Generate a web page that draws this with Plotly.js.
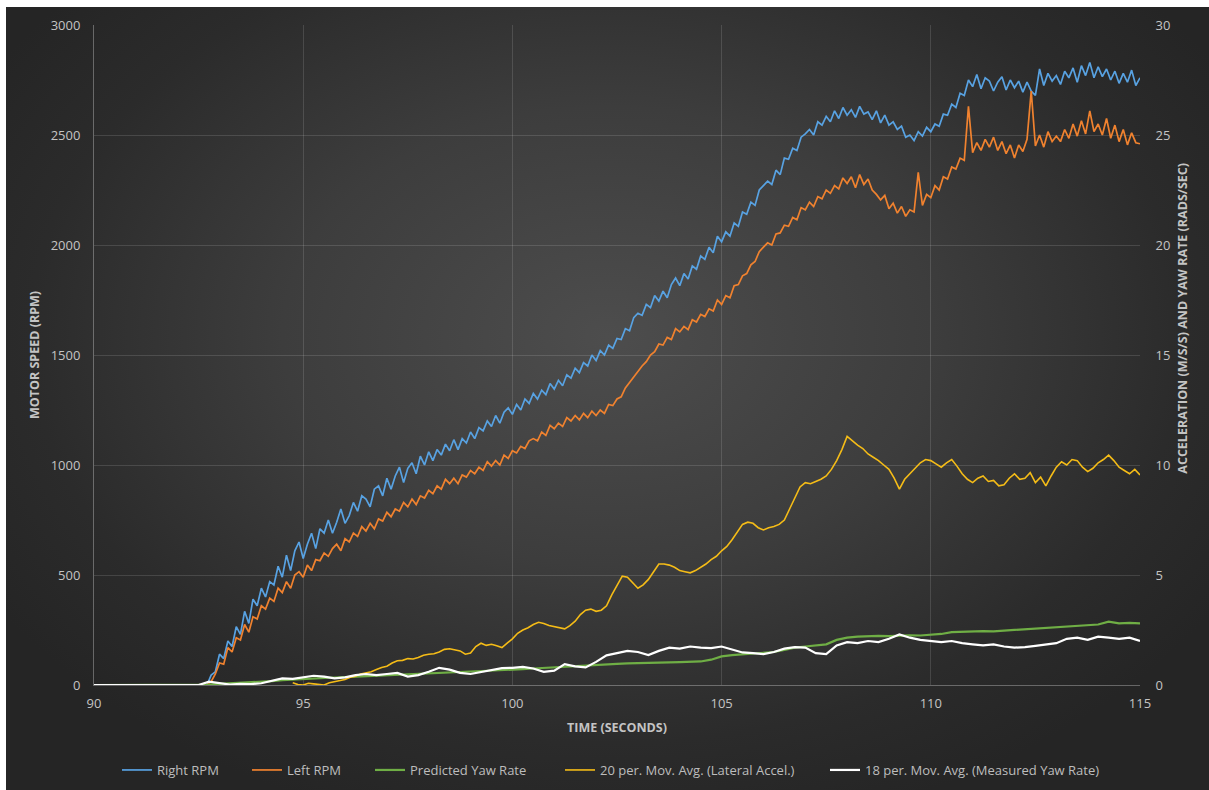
<!DOCTYPE html>
<html>
<head>
<meta charset="utf-8">
<script src="https://cdn.plot.ly/plotly-3.0.1.min.js"></script>
<style>
  html, body { margin: 0; padding: 0; background: #ffffff; width: 1209px; height: 790px; overflow: hidden; }
  #wrap { position: absolute; left: 6px; top: 7px; width: 1203px; height: 783px;
    background: radial-gradient(ellipse 60% 65% at 50% 42%, #4d4d4d 0%, #3d3d3d 45%, #2b2b2b 80%, #252525 100%); }
  #chart { width: 1203px; height: 783px; }
</style>
</head>
<body>
<div id="wrap"><div id="chart"></div></div>
<script>
// ---- time grids (seconds) ----
const rpmStart = 90, rpmStep = 0.1;
const slowStart = 90, slowStep = 0.25;
const accelStart = 94.75, accelStep = 0.125;

// ---- Right RPM (left axis), every 0.1 s from 90 s ----
const rightRPM = [
  0,0,0,0,0,0,0,0,0,0, 0,0,0,0,0,0,0,0,0,0, 0,0,0,0,0,0,0,
  0, 45, 60, 140,
  120, 200, 175, 265, 230,
  335, 280, 390, 360, 440,
  400, 470, 455, 540, 490,
  590, 520, 610, 650, 575,
  640, 690, 620, 710, 690,
  750, 690, 740, 800, 735,
  770, 830, 790, 860, 845,
  810, 890, 905, 860, 940,
  890, 950, 990, 920, 985,
  1010, 960, 1040, 1000, 1060,
  1020, 1070, 1045, 1095, 1065,
  1115, 1070, 1120, 1100, 1150,
  1120, 1170, 1155, 1200, 1175,
  1225, 1190, 1240, 1260, 1230,
  1275, 1250, 1300, 1280, 1325,
  1300, 1340, 1320, 1370, 1345,
  1385, 1360, 1410, 1395, 1440,
  1420, 1465, 1450, 1500, 1475,
  1520, 1500, 1545, 1530, 1575,
  1570, 1620, 1610, 1670, 1690,
  1680, 1730, 1715, 1770, 1745,
  1790, 1760, 1820, 1850, 1815,
  1870, 1845, 1905, 1890, 1950,
  1935, 1990, 1965, 2040, 2015,
  2060, 2040, 2100, 2085, 2150,
  2140, 2195, 2180, 2250, 2270,
  2290, 2275, 2340, 2320, 2395,
  2390, 2440, 2430, 2490, 2505,
  2525, 2500, 2560, 2545, 2585,
  2560, 2610, 2575, 2625, 2590,
  2615, 2580, 2630, 2595, 2605,
  2570, 2610, 2555, 2590, 2545,
  2560, 2525, 2540, 2490, 2500,
  2475, 2515, 2495, 2535, 2515,
  2550, 2540, 2595, 2590, 2640,
  2625, 2690, 2680, 2750, 2720,
  2775, 2710, 2760, 2745, 2700,
  2740, 2765, 2705, 2750, 2715,
  2745, 2695, 2740, 2700, 2680,
  2800, 2725, 2780, 2745, 2770,
  2730, 2790, 2760, 2805, 2740,
  2815, 2770, 2830, 2760, 2810,
  2765, 2800, 2750, 2790, 2735,
  2780, 2740, 2795, 2725, 2760
];

// ---- Left RPM (left axis), every 0.1 s from 90 s ----
const leftRPM = [
  0,0,0,0,0,0,0,0,0,0, 0,0,0,0,0,0,0,0,0,0, 0,0,0,0,0,0,0,
  0, 15, 50, 100,
  95, 170, 150, 215, 205,
  275, 240, 310, 300, 360,
  345, 395, 380, 440, 420,
  470, 440, 500, 515, 490,
  545, 520, 570, 565, 600,
  585, 620, 640, 610, 665,
  650, 690, 675, 720, 700,
  735, 710, 755, 745, 785,
  765, 800, 790, 830, 810,
  845, 820, 860, 850, 885,
  870, 905, 890, 935, 915,
  940, 915, 955, 945, 975,
  960, 990, 975, 1015, 995,
  1020, 1000, 1045, 1030, 1065,
  1055, 1085, 1075, 1110, 1120,
  1110, 1150, 1135, 1180, 1165,
  1190, 1175, 1215, 1200, 1225,
  1205, 1235, 1215, 1245, 1225,
  1250, 1235, 1275, 1270, 1300,
  1310, 1350, 1375, 1400, 1430,
  1450, 1470, 1500, 1515, 1550,
  1545, 1580, 1570, 1620, 1605,
  1630, 1615, 1660, 1650, 1685,
  1675, 1710, 1700, 1750, 1730,
  1770, 1760, 1815, 1820, 1860,
  1870, 1910, 1925, 1970, 1990,
  2010, 2000, 2050, 2055, 2090,
  2085, 2125, 2115, 2170, 2160,
  2195, 2175, 2220, 2210, 2250,
  2235, 2270, 2255, 2305, 2280,
  2310, 2260, 2320, 2275, 2300,
  2250, 2230, 2205, 2225, 2165,
  2190, 2145, 2175, 2130, 2160,
  2150, 2330, 2180, 2230, 2215,
  2270, 2250, 2310, 2300, 2355,
  2345, 2395, 2385, 2630, 2420,
  2465, 2430, 2480, 2445, 2490,
  2430, 2470, 2415, 2455, 2395,
  2455, 2425, 2480, 2700, 2450,
  2500, 2445, 2515, 2470, 2495,
  2470, 2525, 2485, 2550, 2495,
  2565, 2505, 2610, 2515, 2550,
  2500, 2575, 2485, 2545, 2470,
  2525, 2455, 2510, 2465, 2460
];

// ---- Predicted Yaw Rate (right axis), every 0.25 s from 90 s ----
const predictedYaw = [
  0, 0, 0, 0, 0, 0, 0, 0, 0, 0, 0, 0.02,
  0.05, 0.07, 0.10, 0.12, 0.15, 0.18, 0.22, 0.25,
  0.28, 0.30, 0.32, 0.34, 0.36, 0.38, 0.40, 0.41,
  0.43, 0.45, 0.47, 0.49, 0.52, 0.55, 0.57, 0.60,
  0.62, 0.64, 0.66, 0.68, 0.70, 0.72, 0.75, 0.78,
  0.80, 0.82, 0.85, 0.88, 0.90, 0.93, 0.96, 0.98,
  1.00, 1.01, 1.02, 1.03, 1.04, 1.05, 1.07, 1.15,
  1.30, 1.36, 1.40, 1.42, 1.45, 1.50, 1.60, 1.70,
  1.75, 1.80, 1.85, 2.05, 2.15, 2.20, 2.22, 2.23,
  2.22, 2.25, 2.26, 2.25, 2.28, 2.32, 2.40, 2.42,
  2.44, 2.45, 2.44, 2.47, 2.50, 2.52, 2.55, 2.60,
  2.63, 2.64, 2.66, 2.70, 2.75, 2.88, 2.80, 2.82,
  2.80
];

// ---- 18 per. Mov. Avg. (Measured Yaw Rate) (right axis), every 0.25 s from 90 s ----
const measuredYaw = [
  0, 0, 0, 0, 0, 0, 0, 0, 0, 0, 0,
  0.15, 0.08, 0.02, 0.05, 0.04, 0.08, 0.20, 0.30, 0.28,
  0.35, 0.42, 0.38, 0.30, 0.35, 0.45, 0.50, 0.45,
  0.50, 0.55, 0.38, 0.45, 0.60, 0.78, 0.70, 0.55,
  0.50, 0.60, 0.70, 0.77, 0.78, 0.82, 0.75, 0.60,
  0.65, 0.95, 0.85, 0.80, 1.05, 1.35, 1.45, 1.55,
  1.50, 1.36, 1.55, 1.70, 1.65, 1.75, 1.70, 1.68,
  1.75, 1.60, 1.48, 1.45, 1.40, 1.50, 1.65, 1.72,
  1.70, 1.45, 1.40, 1.80, 1.95, 1.90, 2.00, 1.95,
  2.10, 2.30, 2.15, 2.05, 2.00, 1.95, 2.00, 1.90,
  1.85, 1.80, 1.85, 1.75, 1.70, 1.72, 1.78, 1.85,
  1.90, 2.10, 2.15, 2.05, 2.20, 2.15, 2.10, 2.15,
  2.00
];

// ---- 20 per. Mov. Avg. (Lateral Accel.) (right axis), every 0.125 s from 94.75 s ----
const lateralAccel = [
  0.10, 0.02, 0.00, 0.08, 0.05, 0.02, 0.00, 0.10,
  0.15, 0.18, 0.25, 0.35, 0.40, 0.50, 0.55, 0.60,
  0.70, 0.80, 0.85, 1.00, 1.10, 1.12, 1.20, 1.18,
  1.25, 1.35, 1.40, 1.42, 1.50, 1.62, 1.65, 1.60,
  1.55, 1.40, 1.45, 1.75, 1.90, 1.80, 1.85, 1.78,
  1.70, 1.90, 2.10, 2.35, 2.50, 2.60, 2.75, 2.85,
  2.80, 2.70, 2.65, 2.62, 2.55, 2.70, 2.90, 3.20,
  3.40, 3.45, 3.35, 3.40, 3.60, 4.10, 4.50, 4.95,
  4.90, 4.65, 4.40, 4.55, 4.80, 5.15, 5.50, 5.50,
  5.45, 5.35, 5.20, 5.15, 5.10, 5.20, 5.35, 5.50,
  5.70, 5.85, 6.10, 6.30, 6.60, 6.95, 7.30, 7.40,
  7.35, 7.15, 7.05, 7.15, 7.20, 7.30, 7.50, 8.00,
  8.50, 9.00, 9.20, 9.15, 9.25, 9.35, 9.50, 9.80,
  10.20, 10.70, 11.30, 11.10, 10.90, 10.75, 10.50, 10.35,
  10.20, 10.00, 9.80, 9.40, 8.90, 9.35, 9.60, 9.85,
  10.10, 10.25, 10.20, 10.05, 9.90, 10.10, 10.25, 9.95,
  9.60, 9.35, 9.20, 9.40, 9.50, 9.25, 9.30, 9.05,
  9.10, 9.40, 9.60, 9.35, 9.40, 9.65, 9.20, 9.45,
  9.05, 9.50, 9.90, 10.15, 10.00, 10.25, 10.20, 9.90,
  9.70, 9.85, 10.10, 10.25, 10.45, 10.20, 9.90, 9.75,
  9.60, 9.80, 9.55
];

const legendNames = ['Right RPM', 'Left RPM', 'Predicted Yaw Rate',
  '20 per. Mov. Avg. (Lateral Accel.)', '18 per. Mov. Avg. (Measured Yaw Rate)'];
const colors = ['#58A2E2', '#F0822F', '#6FAE45', '#F5BC17', '#FFFFFF'];

const traces = [
  { name: legendNames[0], y: rightRPM, x0: rpmStart, dx: rpmStep, yaxis: 'y', legend: 'legend',
    type: 'scatter', mode: 'lines', line: { color: colors[0], width: 1.7 } },
  { name: legendNames[1], y: leftRPM, x0: rpmStart, dx: rpmStep, yaxis: 'y', legend: 'legend2',
    type: 'scatter', mode: 'lines', line: { color: colors[1], width: 1.7 } },
  { name: legendNames[2], y: predictedYaw, x0: slowStart, dx: slowStep, yaxis: 'y2', legend: 'legend3',
    type: 'scatter', mode: 'lines', line: { color: colors[2], width: 2.2 } },
  { name: legendNames[3], y: lateralAccel, x0: accelStart, dx: accelStep, yaxis: 'y2', legend: 'legend4',
    type: 'scatter', mode: 'lines', line: { color: colors[3], width: 1.6 } },
  { name: legendNames[4], y: measuredYaw, x0: slowStart, dx: slowStep, yaxis: 'y2', legend: 'legend5',
    type: 'scatter', mode: 'lines', line: { color: colors[4], width: 2.2 } }
];

const fontFam = '"Open Sans", "Noto Sans", sans-serif';
const tickCol = '#c4c4c4';
const gridCol = 'rgba(255,255,255,0.13)';
const W = 1203, H = 783;

function legendAt(px) {
  return { orientation: 'h', xref: 'container', yref: 'container',
    x: px / W, xanchor: 'left', y: 1 - 763 / H, yanchor: 'middle',
    font: { size: 13, color: '#bdbdbd', family: fontFam }, bgcolor: 'rgba(0,0,0,0)' };
}

const layout = {
  width: W, height: H,
  paper_bgcolor: 'rgba(0,0,0,0)',
  plot_bgcolor: 'rgba(0,0,0,0)',
  margin: { l: 88, r: 69, t: 18, b: 105 },
  font: { family: fontFam, color: tickCol, size: 13 },
  showlegend: true,
  legend: legendAt(111),
  legend2: legendAt(241),
  legend3: legendAt(364),
  legend4: legendAt(554),
  legend5: legendAt(819),
  xaxis: {
    range: [90, 115], dtick: 5, tick0: 90,
    showgrid: true, gridcolor: gridCol, gridwidth: 1,
    showline: true, linecolor: 'rgba(255,255,255,0.3)', linewidth: 1,
    zeroline: false, ticks: 'outside', ticklen: 6, tickcolor: 'rgba(0,0,0,0)',
    tickfont: { size: 13, color: tickCol },
    title: { text: '<b>TIME (SECONDS)</b>', font: { size: 12.5, color: tickCol }, standoff: 12 }
  },
  yaxis: {
    range: [0, 3000], dtick: 500, tick0: 0,
    showgrid: true, gridcolor: gridCol, gridwidth: 1,
    showline: true, linecolor: 'rgba(255,255,255,0.3)', linewidth: 1,
    zeroline: false, ticks: 'outside', ticklen: 10, tickcolor: 'rgba(0,0,0,0)',
    tickfont: { size: 13, color: tickCol },
    title: { text: '<b>MOTOR SPEED (RPM)</b>', font: { size: 12.5, color: tickCol }, standoff: 8 }
  },
  yaxis2: {
    range: [0, 30], dtick: 5, tick0: 0, overlaying: 'y', side: 'right',
    showgrid: false, showline: false, zeroline: false,
    ticks: 'outside', ticklen: 12, tickcolor: 'rgba(0,0,0,0)',
    tickfont: { size: 13, color: tickCol }
  },
  annotations: [{
    text: '<b>ACCELERATION (M/S/S) AND YAW RATE (RADS/SEC)</b>',
    xref: 'paper', yref: 'paper', x: 1, xshift: 43, y: 0.555,
    xanchor: 'center', yanchor: 'middle', textangle: -90, showarrow: false,
    font: { size: 12.5, color: tickCol, family: fontFam }
  }]
};

Plotly.newPlot('chart', traces, layout, { displayModeBar: false, staticPlot: true });
</script>
</body>
</html>
